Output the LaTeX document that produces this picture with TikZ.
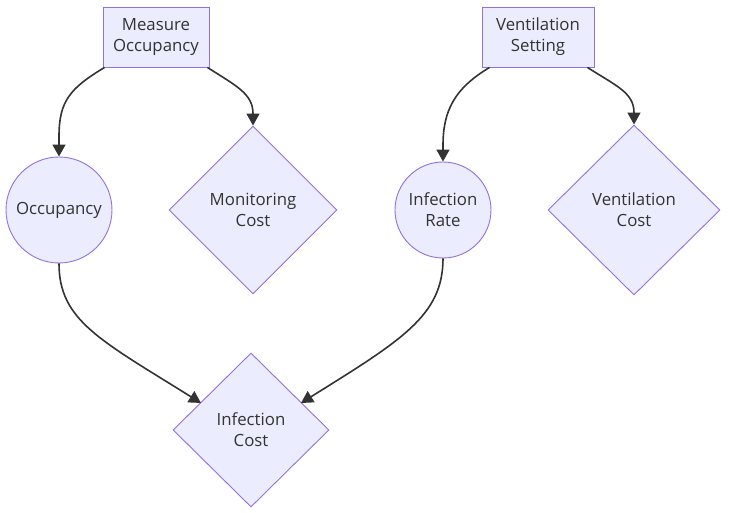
\documentclass[tikz,border=0pt]{standalone}
\usepackage{fontspec}
\setmainfont{Open Sans}
\usetikzlibrary{shapes.geometric,arrows.meta,calc}
\definecolor{nfill}{HTML}{ECECFF}
\definecolor{nstroke}{HTML}{9370DB}
\definecolor{ltxt}{HTML}{333333}
\tikzset{
  base/.style={draw=nstroke, fill=nfill, line width=0.9pt, text=ltxt, align=center, font=\fontsize{16.8}{21}\selectfont, inner sep=0pt},
  boxnode/.style={base, rectangle, minimum width=106pt, minimum height=60pt},
  circnode/.style={base, circle},
  dianode/.style={base, diamond, aspect=1},
  edge/.style={draw=ltxt, line width=1.6pt, -{Triangle[length=12pt,width=13pt]}},
}
\begin{document}
\begin{tikzpicture}[x=1pt,y=-1pt]
\useasboundingbox (0,0) rectangle (732,513);
\node[boxnode] (mo) at (156,37) {Measure\\Occupancy};
\node[boxnode, minimum width=112pt] (vs) at (538,37) {Ventilation\\Setting};
\node[circnode, minimum size=106pt] (oc) at (59,210) {Occupancy};
\node[circnode, minimum size=96pt] (ir) at (443,210) {Infection\\Rate};
\node[dianode, minimum width=168pt, minimum height=168pt] (mc) at (253,210) {Monitoring\\Cost};
\node[dianode, minimum width=172pt, minimum height=170pt] (vc) at (634,210) {Ventilation\\Cost};
\node[dianode, minimum width=156pt, minimum height=154pt] (ic) at (251,430) {Infection\\Cost};
\coordinate (icl) at (201,403);
\coordinate (icr) at (301,403);
\draw[edge] ([xshift=2pt]mo.south west) .. controls +(-35,21) and +(0,-35) .. ($(oc.north)+(0,-20)$) -- (oc.north);
\draw[edge] ([xshift=-2pt]mo.south east) .. controls +(28,18) and +(0,-20) .. ($(mc.north)+(0,-12)$) -- (mc.north);
\draw[edge] ([xshift=8pt]vs.south west) .. controls +(-35,21) and +(0,-35) .. ($(ir.north)+(0,-16)$) -- (ir.north);
\draw[edge] ([xshift=-7pt]vs.south east) .. controls +(28,18) and +(0,-20) .. ($(vc.north)+(0,-12)$) -- (vc.north);
\draw[edge] (oc.south) .. controls +(0,57) and +(-101,-63) .. (icl);
\draw[edge] (ir.south) .. controls +(0,57) and +(101,-63) .. (icr);
\end{tikzpicture}
\end{document}
